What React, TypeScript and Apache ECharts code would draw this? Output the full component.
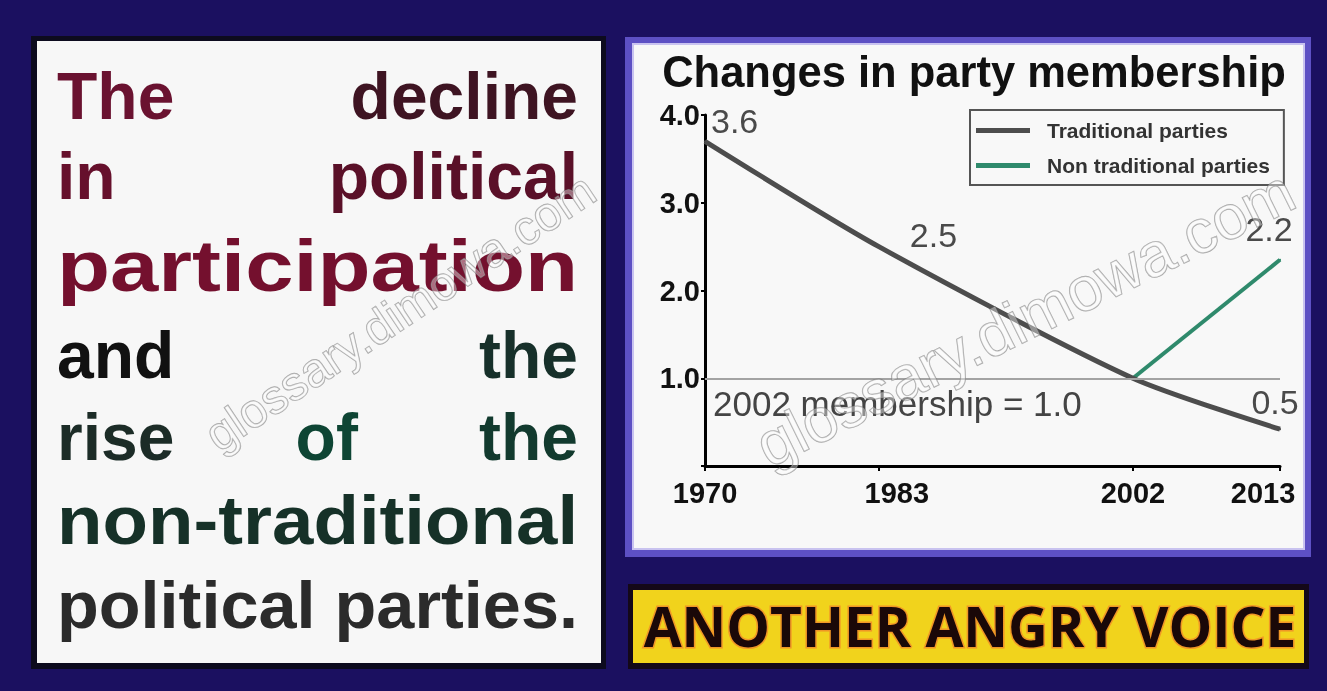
import React, { useEffect, useRef } from "react";
import * as echarts from "echarts";

// ---- data ----
const years = [1970, 1983, 2002, 2013];
const traditional = [3.7, 2.5, 1.0, 0.42];
const traditionalLabels = ["3.6", "2.5", "", "0.5"];
const nonTraditionalYears = [2002, 2013];
const nonTraditional = [1.0, 2.35];
const nonTraditionalLabels = ["", "2.2"];
const seriesNames = ["Traditional parties", "Non traditional parties"];
const baselineValue = 1.0;
const baselineText = "2002 membership = 1.0";
const titleText = "Changes in party membership";
const bannerText = "ANOTHER ANGRY VOICE";
const watermarkText = "glossary.dimowa.com";

const panelLines = [
  ["The", "decline"],
  ["in", "political"],
  ["participation"],
  ["and", "the"],
  ["rise", "of", "the"],
  ["non-traditional"],
  ["political parties."],
];
const panelColors = [
  ["#6a1230", "#3e1422"],
  ["#66102c", "#5a1028"],
  ["#74102e"],
  ["#111111", "#17302a"],
  ["#1c2c27", "#0e4534", "#123a2e"],
  ["#163128"],
  ["#2b2b2b"],
];

const FONT = "'Liberation Sans', Arial, sans-serif";

function measure(text: string, font: string) {
  const c = document.createElement("canvas").getContext("2d")!;
  c.font = font;
  return c.measureText(text).width;
}

function buildPanel() {
  const els: any[] = [];
  const left = 57;
  const W = 521;
  const centers = [96, 176, 266, 355, 437, 520, 605];
  const sizes = [66, 66, 72, 66, 66, 68, 66];
  panelLines.forEach((words, li) => {
    const fs = sizes[li];
    const font = `bold ${fs}px ${FONT}`;
    const widths = words.map((w) => measure(w, font));
    if (words.length === 1) {
      const sx = W / widths[0];
      els.push({
        type: "text",
        x: left,
        y: centers[li],
        scaleX: sx,
        style: {
          text: words[0],
          fill: panelColors[li][0],
          font,
          align: "left",
          verticalAlign: "middle",
          textAlign: "left",
          textVerticalAlign: "middle",
        },
        z: 5,
      });
    } else {
      const sum = widths.reduce((a, b) => a + b, 0);
      const gap = (W - sum) / (words.length - 1);
      let x = left;
      words.forEach((w, wi) => {
        els.push({
          type: "text",
          x,
          y: centers[li],
          style: {
            text: w,
            fill: panelColors[li][wi],
            font,
            align: "left",
            verticalAlign: "middle",
            textAlign: "left",
            textVerticalAlign: "middle",
          },
          z: 5,
        });
        x += widths[wi] + gap;
      });
    }
  });
  return els;
}

export default function App() {
  const ref = useRef<HTMLDivElement>(null);
  useEffect(() => {
    if (!ref.current) return;
    const chart = echarts.init(ref.current, null, { renderer: "svg" });

    const labelStyle = { fontSize: 34, color: "#4a4a4a", fontFamily: FONT };
    const tradLabelPos: any[] = [
      { position: "right", distance: 5, offset: [0, -20] },
      { position: "right", distance: 30, offset: [0, -12] },
      null,
      { position: "top", distance: 9, offset: [-5, 0] },
    ];
    const ntLabelPos: any[] = [null, { position: "top", distance: 13, offset: [-11, 0] }];

    const tradData = years.map((y, i) => ({
      value: [y, traditional[i]],
      label: traditionalLabels[i]
        ? { show: true, formatter: traditionalLabels[i], ...labelStyle, ...tradLabelPos[i] }
        : { show: false },
    }));
    const ntData = nonTraditionalYears.map((y, i) => ({
      value: [y, nonTraditional[i]],
      label: nonTraditionalLabels[i]
        ? { show: true, formatter: nonTraditionalLabels[i], ...labelStyle, ...ntLabelPos[i] }
        : { show: false },
    }));

    const wmStyle = {
      fill: "rgba(255,255,255,0.4)",
      stroke: "rgba(110,110,110,0.6)",
      lineWidth: 1.2,
      align: "center",
      verticalAlign: "middle",
      textAlign: "center",
      textVerticalAlign: "middle",
    };

    const xLabelRich = {
      n: { fontSize: 29, fontWeight: "bold", color: "#111", fontFamily: FONT },
      s: { fontSize: 29, fontWeight: "bold", color: "#111", fontFamily: FONT, padding: [0, 0, 0, 36] },
      e: { fontSize: 29, fontWeight: "bold", color: "#111", fontFamily: FONT, padding: [0, 34, 0, 0] },
    };

    const option: any = {
      animation: false,
      title: {
        text: titleText,
        left: 974,
        top: 50,
        textAlign: "center",
        padding: 0,
        textStyle: { fontSize: 43.5, fontWeight: "bold", color: "#111", fontFamily: FONT },
      },
      legend: {
        orient: "vertical",
        left: 970,
        top: 110,
        icon: "rect",
        itemWidth: 54,
        itemHeight: 5,
        itemGap: 14,
        borderColor: "#555",
        borderWidth: 2,
        padding: [10, 14, 9, 6],
        textStyle: { fontSize: 21, fontWeight: "bold", color: "#333", fontFamily: FONT, padding: [0, 0, 0, 12] },
        data: seriesNames,
      },
      grid: { left: 705, right: 47, top: 115, bottom: 225 },
      xAxis: {
        type: "value",
        min: 1970,
        max: 2013,
        axisLine: { show: true, lineStyle: { color: "#000", width: 3 } },
        axisTick: { show: true, customValues: years, length: 5, lineStyle: { color: "#000", width: 2 } },
        axisLabel: {
          customValues: years,
          formatter: (v: number) =>
            v === years[1] ? `{s|${v}}` : v === years[years.length - 1] ? `{e|${v}}` : `{n|${v}}`,
          rich: xLabelRich,
          margin: 12,
        },
        splitLine: { show: false },
      },
      yAxis: {
        type: "value",
        min: 0,
        max: 4,
        interval: 1,
        axisLine: { show: true, lineStyle: { color: "#000", width: 3 } },
        axisTick: { show: true, length: 4, lineStyle: { color: "#000", width: 2 } },
        axisLabel: {
          formatter: (v: number) => (v === 0 ? "" : v.toFixed(1)),
          fontSize: 29,
          fontWeight: "bold",
          color: "#111",
          margin: 5,
          fontFamily: FONT,
        },
        splitLine: { show: false },
      },
      series: [
        {
          name: seriesNames[0],
          type: "line",
          data: tradData,
          smooth: 0.25,
          symbol: "circle",
          symbolSize: 2,
          color: "#4d4d4d",
          lineStyle: { width: 5, color: "#4d4d4d" },
          z: 4,
          markLine: {
            silent: true,
            symbol: "none",
            lineStyle: { color: "#a3a3a3", width: 2, type: "solid" },
            label: {
              show: true,
              position: "insideStartBottom",
              formatter: baselineText,
              distance: 8,
              fontSize: 35,
              color: "#444",
              fontFamily: FONT,
            },
            data: [{ yAxis: baselineValue }],
          },
        },
        {
          name: seriesNames[1],
          type: "line",
          data: ntData,
          symbol: "circle",
          symbolSize: 2,
          color: "#2f8a6c",
          lineStyle: { width: 4, color: "#2f8a6c" },
          z: 3,
        },
      ],
      graphic: [
        { type: "rect", z: -10, shape: { x: 0, y: 0, width: 1327, height: 691 }, style: { fill: "#1b1060" } },
        { type: "rect", z: -9, shape: { x: 31, y: 36, width: 575, height: 633 }, style: { fill: "#0d0b1e" } },
        { type: "rect", z: -8, shape: { x: 37, y: 41, width: 564, height: 622 }, style: { fill: "#f7f7f7" } },
        { type: "rect", z: -9, shape: { x: 625, y: 37, width: 686, height: 520 }, style: { fill: "#5d50c4" } },
        {
          type: "rect",
          z: -8,
          shape: { x: 633, y: 44, width: 671, height: 505 },
          style: { fill: "#f8f8f8", stroke: "#c9c3f0", lineWidth: 2 },
        },
        { type: "rect", z: -9, shape: { x: 628, y: 584, width: 681, height: 85 }, style: { fill: "#140818" } },
        { type: "rect", z: -8, shape: { x: 633, y: 590, width: 671, height: 73 }, style: { fill: "#f1d31c" } },
        {
          type: "text",
          x: 970,
          y: 625,
          z: 5,
          style: {
            text: bannerText,
            font: `bold 55px 'Open Sans', sans-serif`,
            fill: "#1a0808",
            stroke: "rgba(240,140,40,0.85)",
            lineWidth: 3,
            align: "center",
            verticalAlign: "middle",
            textAlign: "center",
            textVerticalAlign: "middle",
          },
        },
        ...buildPanel(),
        {
          type: "text",
          x: 400,
          y: 312,
          rotation: 0.59,
          z: 50,
          style: { ...wmStyle, text: watermarkText, font: `48px ${FONT}` },
        },
        {
          type: "text",
          x: 1025,
          y: 318,
          rotation: 0.46,
          z: 50,
          style: { ...wmStyle, text: watermarkText, font: `62px ${FONT}` },
        },
      ],
    };
    chart.setOption(option);
    return () => chart.dispose();
  }, []);
  return <div ref={ref} style={{ position: "fixed", left: 0, top: 0, width: 1327, height: 691 }} />;
}
